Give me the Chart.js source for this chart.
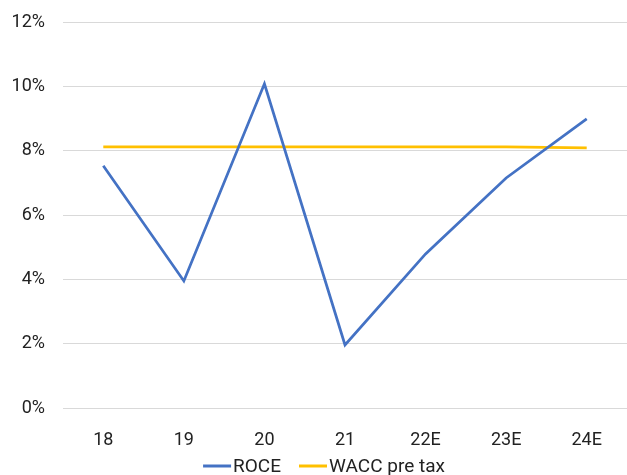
<!DOCTYPE html>
<html>
<head>
<meta charset="utf-8">
<script src="https://cdn.jsdelivr.net/npm/chart.js@4/dist/chart.umd.min.js"></script>
<style>
  html, body { margin: 0; padding: 0; background: #fff; }
  #wrap { width: 627px; height: 475px; }
</style>
</head>
<body>
<div id="wrap"><canvas id="c" width="627" height="475"></canvas></div>
<script>
// Years (E = estimate)
const categories = ['18', '19', '20', '21', '22E', '23E', '24E'];
// Return on capital employed, %
const roce = [7.53, 3.95, 10.08, 1.96, 4.79, 7.15, 8.99];
// Pre-tax weighted average cost of capital, %
const waccPreTax = [8.12, 8.12, 8.12, 8.12, 8.12, 8.12, 8.09];
// Value axis ticks
const yTicks = [0, 2, 4, 6, 8, 10, 12];

const FONT = 'Roboto, "Liberation Sans", sans-serif';
Chart.defaults.font.family = FONT;
Chart.defaults.font.size = 18;
Chart.defaults.color = '#222';

// Compact line-swatch legend below the axis
const swatchLegend = {
  id: 'swatchLegend',
  afterDraw(chart) {
    const ctx = chart.ctx;
    const swatch = 28, gap = 2, itemGap = 18, cy = 466;
    ctx.save();
    ctx.font = '19px ' + FONT;
    ctx.textBaseline = 'middle';
    const items = chart.data.datasets.map(ds => ({
      ds, w: swatch + gap + ctx.measureText(ds.label).width
    }));
    const total = items.reduce((a, it) => a + it.w, 0) + itemGap * (items.length - 1);
    let x = 324 - total / 2;
    items.forEach(it => {
      ctx.strokeStyle = it.ds.borderColor;
      ctx.lineWidth = 3;
      ctx.beginPath();
      ctx.moveTo(x, cy);
      ctx.lineTo(x + swatch, cy);
      ctx.stroke();
      ctx.fillStyle = '#222';
      ctx.fillText(it.ds.label, x + swatch + gap, cy + 1);
      x += it.w + itemGap;
    });
    ctx.restore();
  }
};

new Chart(document.getElementById('c'), {
  type: 'line',
  data: {
    labels: categories,
    datasets: [
      {
        label: 'ROCE',
        data: roce,
        borderColor: '#4472C4',
        backgroundColor: '#4472C4',
        borderWidth: 2.75,
        pointRadius: 0,
        tension: 0
      },
      {
        label: 'WACC pre tax',
        data: waccPreTax,
        borderColor: '#FFC000',
        backgroundColor: '#FFC000',
        borderWidth: 2.75,
        pointRadius: 0,
        tension: 0
      }
    ]
  },
  options: {
    responsive: false,
    animation: false,
    layout: { padding: { top: 22, right: 0, left: 0, bottom: 27 } },
    scales: {
      x: {
        offset: true,
        grid: { display: false },
        border: { display: false },
        ticks: { padding: 14, maxRotation: 0 },
        afterFit: s => { s.height = 40; s.paddingLeft = 0; s.paddingRight = 0; }
      },
      y: {
        min: 0,
        max: 12,
        afterBuildTicks: s => { s.ticks = yTicks.map(v => ({ value: v })); },
        ticks: { callback: v => v + '%', padding: 18 },
        grid: { color: '#d9d9d9', lineWidth: 1, drawTicks: false },
        border: { display: false },
        afterFit: s => { s.width = 63; s.paddingTop = 0; s.paddingBottom = 0; }
      }
    },
    plugins: {
      legend: { display: false },
      tooltip: { enabled: false }
    }
  },
  plugins: [swatchLegend]
});
</script>
</body>
</html>
